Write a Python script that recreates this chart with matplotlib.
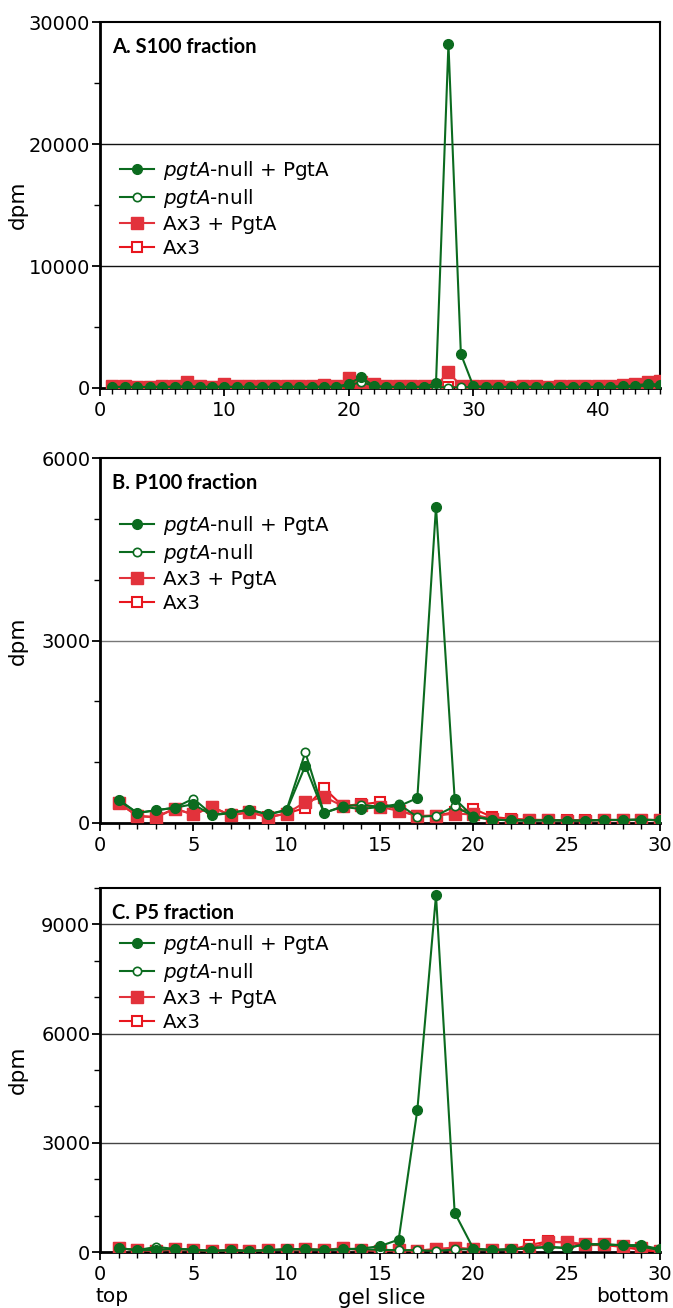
import numpy as np
import matplotlib
matplotlib.use("Agg")
import matplotlib.pyplot as plt

# gel slices
slices_a = list(range(1, 46))
slices_bc = list(range(1, 31))

# A. S100 fraction
a_null_pgta = [100, 90, 80, 90, 100, 100, 150, 100, 90, 120, 90, 100, 100, 90, 100,
               100, 100, 110, 100, 350, 900, 150, 100, 90, 100, 100, 400, 28200, 2780, 150,
               100, 100, 90, 100, 100, 90, 100, 100, 100, 90, 100, 150, 200, 350, 270]
a_null = [80, 70, 60, 70, 80, 80, 90, 80, 70, 80, 70, 80, 80, 70, 80,
          80, 80, 80, 80, 200, 500, 150, 80, 70, 70, 70, 80, 30, 60, 80,
          70, 70, 60, 70, 70, 60, 70, 70, 70, 60, 70, 80, 100, 200, 150]
a_ax3_pgta = [150, 150, 100, 120, 150, 150, 460, 150, 120, 330, 150, 150, 200, 150, 150,
              200, 150, 250, 150, 820, 500, 330, 200, 150, 150, 150, 200, 1280, 200, 150,
              150, 150, 120, 150, 150, 120, 150, 150, 150, 150, 150, 250, 300, 460, 550]
a_ax3 = [100, 90, 70, 80, 100, 100, 200, 100, 80, 150, 90, 100, 120, 100, 100,
         120, 100, 150, 100, 400, 460, 200, 120, 100, 100, 100, 60, 100, 60, 100,
         90, 90, 80, 90, 90, 80, 90, 90, 90, 90, 100, 150, 200, 350, 400]

# B. P100 fraction
b_null_pgta = [370, 165, 210, 250, 310, 125, 165, 220, 140, 210, 940, 165, 265, 230, 265,
               275, 410, 5200, 400, 100, 55, 45, 40, 45, 40, 40, 50, 50, 55, 45]
b_null = [385, 165, 210, 250, 400, 140, 165, 220, 140, 220, 1160, 165, 275, 300, 265,
          310, 100, 120, 275, 110, 55, 45, 40, 45, 40, 40, 50, 50, 55, 45]
b_ax3_pgta = [330, 115, 90, 235, 140, 265, 125, 180, 90, 155, 345, 430, 280, 290, 265,
              200, 115, 120, 155, 140, 70, 55, 45, 45, 40, 40, 45, 45, 50, 45]
b_ax3 = [330, 115, 100, 235, 140, 265, 125, 180, 100, 155, 250, 575, 280, 310, 340,
         210, 115, 120, 180, 235, 100, 70, 55, 50, 45, 45, 50, 50, 55, 50]

# C. P5 fraction
c_null_pgta = [105, 50, 55, 85, 65, 30, 50, 30, 50, 75, 75, 55, 75, 95, 160,
               340, 3900, 9800, 1080, 95, 55, 75, 105, 140, 105, 215, 210, 190, 190, 75]
c_null = [105, 50, 140, 85, 65, 30, 50, 30, 50, 75, 75, 55, 75, 80, 60,
          50, 50, 30, 70, 75, 55, 75, 100, 140, 110, 210, 210, 180, 150, 50]
c_ax3_pgta = [105, 55, 30, 75, 65, 30, 50, 30, 50, 65, 75, 55, 105, 55, 30,
              50, 40, 75, 120, 75, 55, 65, 95, 265, 280, 210, 210, 160, 120, 30]
c_ax3 = [105, 55, 40, 75, 65, 30, 50, 30, 50, 65, 75, 55, 100, 60, 40,
         50, 40, 75, 110, 75, 55, 65, 190, 290, 255, 190, 190, 140, 55, 0]

labels = [r"$\it{pgtA}$-null + PgtA", r"$\it{pgtA}$-null", "Ax3 + PgtA", "Ax3"]

green = "#0b6b1f"
red = "#e2323b"
red_open = "#e8161e"

plt.rcParams["font.family"] = "DejaVu Sans"
plt.rcParams["mathtext.fontset"] = "dejavusans"

fig = plt.figure(figsize=(6.73, 13.08), dpi=100)
W, H = 673, 1308


def make_axes(top, bottom):
    return fig.add_axes([100 / W, 1 - bottom / H, 560 / W, (bottom - top) / H])


def panel(ax, x, series, title, ymax, yticks, yminor, grid, gcol, xmax, xticks, leg_y):
    null_pgta, null, ax3_pgta, ax3 = series
    h4, = ax.plot(x, ax3, color=red_open, lw=1.5, marker="s", ms=7.5, mfc="white",
                  mec=red_open, mew=1.5, zorder=3)
    h3, = ax.plot(x, ax3_pgta, color=red, lw=1.5, marker="s", ms=8, mfc=red,
                  mec=red, zorder=4)
    h2, = ax.plot(x, null, color=green, lw=1.5, marker="o", ms=6, mfc="white",
                  mec=green, mew=1.2, zorder=5)
    h1, = ax.plot(x, null_pgta, color=green, lw=1.5, marker="o", ms=7, mfc=green,
                  mec=green, zorder=6)
    for g in grid:
        ax.axhline(g, color=gcol, lw=1.0, zorder=1)
    ax.set_xlim(0, xmax)
    ax.set_ylim(0, ymax)
    ax.set_xticks(xticks)
    ax.set_xticks(np.arange(0, xmax + 1, 1), minor=True)
    ax.set_yticks(yticks)
    ax.set_yticks(yminor, minor=True)
    ax.tick_params(which="major", length=6, width=1.3, labelsize=14, direction="out")
    ax.tick_params(axis="y", which="major", pad=1)
    ax.tick_params(which="minor", length=4, width=1.0, direction="out")
    ax.spines["left"].set_linewidth(2.0)
    ax.spines["bottom"].set_linewidth(2.0)
    ax.spines["top"].set_linewidth(1.5)
    ax.spines["right"].set_linewidth(1.5)
    ax.set_ylabel("dpm", fontsize=15.5)
    ax.yaxis.set_label_coords(-0.128, 0.5)
    ax.text(0.022, 0.96, title, transform=ax.transAxes, fontsize=14.5,
            fontfamily="Lato", fontweight="bold", va="top", ha="left")
    ax.legend([h1, h2, h3, h4], labels, loc="upper left", frameon=False,
              bbox_to_anchor=(0.035, leg_y), borderaxespad=0, borderpad=0,
              fontsize=14.3, handlelength=1.75, handletextpad=0.45, labelspacing=0.25)


ax_a = make_axes(22, 388)
panel(ax_a, slices_a, [a_null_pgta, a_null, a_ax3_pgta, a_ax3], "A. S100 fraction",
      30000, [0, 10000, 20000, 30000], [5000, 15000, 25000], [10000, 20000], "#111111",
      45, [0, 10, 20, 30, 40], 0.626)

ax_b = make_axes(458, 823)
panel(ax_b, slices_bc, [b_null_pgta, b_null, b_ax3_pgta, b_ax3], "B. P100 fraction",
      6000, [0, 3000, 6000], [1000, 2000, 4000, 5000], [3000], "#777777",
      30, [0, 5, 10, 15, 20, 25, 30], 0.847)

ax_c = make_axes(888, 1252)
panel(ax_c, slices_bc, [c_null_pgta, c_null, c_ax3_pgta, c_ax3], "C. P5 fraction",
      10000, [0, 3000, 6000, 9000], [1000, 2000, 4000, 5000, 7000, 8000, 10000],
      [3000, 6000, 9000], "#444444", 30, [0, 5, 10, 15, 20, 25, 30], 0.877)

fig.text(95 / W, 1 - 1297 / H, "top", fontsize=14.5, ha="left", va="center")
fig.text(382 / W, 1 - 1298 / H, "gel slice", fontsize=15.5, ha="center", va="center")
fig.text(669 / W, 1 - 1297 / H, "bottom", fontsize=14.5, ha="right", va="center")

fig.savefig("out.png", dpi=100)
